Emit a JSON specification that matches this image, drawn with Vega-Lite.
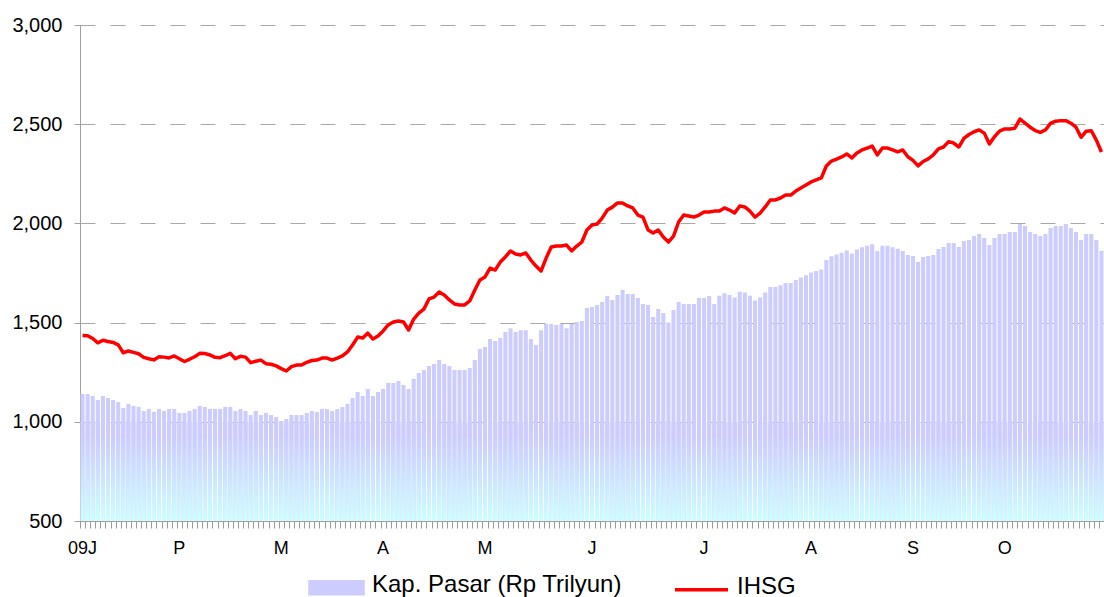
{
  "$schema": "https://vega.github.io/schema/vega-lite/v6.json",
  "width": 1024,
  "height": 496,
  "autosize": "none",
  "padding": {"left": 80, "top": 25, "right": 0, "bottom": 76},
  "background": "white",
  "view": {"stroke": null},
  "config": {"font": "Liberation Sans"},
  "data": {"values": [
{"i":0,"kap":1140,"ihsg":1435},{"i":1,"kap":1140,"ihsg":1434},{"i":2,"kap":1130,"ihsg":1420},{"i":3,"kap":1110,"ihsg":1398},{"i":4,"kap":1130,"ihsg":1411},
{"i":5,"kap":1120,"ihsg":1405},{"i":6,"kap":1110,"ihsg":1400},{"i":7,"kap":1100,"ihsg":1388},{"i":8,"kap":1070,"ihsg":1348},{"i":9,"kap":1090,"ihsg":1357},
{"i":10,"kap":1080,"ihsg":1350},{"i":11,"kap":1075,"ihsg":1343},{"i":12,"kap":1055,"ihsg":1325},{"i":13,"kap":1065,"ihsg":1318},{"i":14,"kap":1050,"ihsg":1312},
{"i":15,"kap":1065,"ihsg":1328},{"i":16,"kap":1055,"ihsg":1326},{"i":17,"kap":1065,"ihsg":1322},{"i":18,"kap":1065,"ihsg":1332},{"i":19,"kap":1045,"ihsg":1318},
{"i":20,"kap":1045,"ihsg":1304},{"i":21,"kap":1055,"ihsg":1315},{"i":22,"kap":1065,"ihsg":1328},{"i":23,"kap":1080,"ihsg":1345},{"i":24,"kap":1075,"ihsg":1344},
{"i":25,"kap":1065,"ihsg":1337},{"i":26,"kap":1065,"ihsg":1325},{"i":27,"kap":1065,"ihsg":1323},{"i":28,"kap":1075,"ihsg":1333},{"i":29,"kap":1075,"ihsg":1345},
{"i":30,"kap":1055,"ihsg":1318},{"i":31,"kap":1065,"ihsg":1330},{"i":32,"kap":1055,"ihsg":1326},{"i":33,"kap":1034,"ihsg":1298},{"i":34,"kap":1055,"ihsg":1305},
{"i":35,"kap":1034,"ihsg":1311},{"i":36,"kap":1045,"ihsg":1293},{"i":37,"kap":1034,"ihsg":1290},{"i":38,"kap":1024,"ihsg":1282},{"i":39,"kap":1004,"ihsg":1268},
{"i":40,"kap":1014,"ihsg":1256},{"i":41,"kap":1034,"ihsg":1278},{"i":42,"kap":1034,"ihsg":1286},{"i":43,"kap":1034,"ihsg":1286},{"i":44,"kap":1044,"ihsg":1300},
{"i":45,"kap":1054,"ihsg":1309},{"i":46,"kap":1049,"ihsg":1311},{"i":47,"kap":1064,"ihsg":1321},{"i":48,"kap":1064,"ihsg":1321},{"i":49,"kap":1054,"ihsg":1311},
{"i":50,"kap":1064,"ihsg":1321},{"i":51,"kap":1074,"ihsg":1332},{"i":52,"kap":1090,"ihsg":1352},{"i":53,"kap":1120,"ihsg":1387},{"i":54,"kap":1150,"ihsg":1427},
{"i":55,"kap":1130,"ihsg":1422},{"i":56,"kap":1165,"ihsg":1447},{"i":57,"kap":1130,"ihsg":1417},{"i":58,"kap":1150,"ihsg":1432},{"i":59,"kap":1165,"ihsg":1458},
{"i":60,"kap":1195,"ihsg":1488},{"i":61,"kap":1195,"ihsg":1503},{"i":62,"kap":1206,"ihsg":1508},{"i":63,"kap":1185,"ihsg":1503},{"i":64,"kap":1165,"ihsg":1463},
{"i":65,"kap":1216,"ihsg":1518},{"i":66,"kap":1246,"ihsg":1548},{"i":67,"kap":1261,"ihsg":1568},{"i":68,"kap":1281,"ihsg":1619},{"i":69,"kap":1291,"ihsg":1629},
{"i":70,"kap":1311,"ihsg":1654},{"i":71,"kap":1291,"ihsg":1639},{"i":72,"kap":1281,"ihsg":1614},{"i":73,"kap":1261,"ihsg":1594},{"i":74,"kap":1261,"ihsg":1589},
{"i":75,"kap":1261,"ihsg":1589},{"i":76,"kap":1271,"ihsg":1609},{"i":77,"kap":1311,"ihsg":1664},{"i":78,"kap":1367,"ihsg":1715},{"i":79,"kap":1377,"ihsg":1730},
{"i":80,"kap":1417,"ihsg":1775},{"i":81,"kap":1407,"ihsg":1765},{"i":82,"kap":1422,"ihsg":1805},{"i":83,"kap":1452,"ihsg":1831},{"i":84,"kap":1472,"ihsg":1861},
{"i":85,"kap":1452,"ihsg":1846},{"i":86,"kap":1462,"ihsg":1841},{"i":87,"kap":1462,"ihsg":1851},{"i":88,"kap":1417,"ihsg":1815},{"i":89,"kap":1387,"ihsg":1785},
{"i":90,"kap":1462,"ihsg":1760},{"i":91,"kap":1493,"ihsg":1825},{"i":92,"kap":1493,"ihsg":1881},{"i":93,"kap":1488,"ihsg":1886},{"i":94,"kap":1493,"ihsg":1886},
{"i":95,"kap":1472,"ihsg":1891},{"i":96,"kap":1493,"ihsg":1861},{"i":97,"kap":1503,"ihsg":1886},{"i":98,"kap":1508,"ihsg":1906},{"i":99,"kap":1574,"ihsg":1967},
{"i":100,"kap":1579,"ihsg":1992},{"i":101,"kap":1589,"ihsg":1997},{"i":102,"kap":1604,"ihsg":2027},{"i":103,"kap":1634,"ihsg":2067},{"i":104,"kap":1614,"ihsg":2082},
{"i":105,"kap":1639,"ihsg":2103},{"i":106,"kap":1664,"ihsg":2103},{"i":107,"kap":1644,"ihsg":2088},{"i":108,"kap":1644,"ihsg":2078},{"i":109,"kap":1624,"ihsg":2042},
{"i":110,"kap":1594,"ihsg":2032},{"i":111,"kap":1589,"ihsg":1967},{"i":112,"kap":1528,"ihsg":1952},{"i":113,"kap":1568,"ihsg":1967},{"i":114,"kap":1548,"ihsg":1931},
{"i":115,"kap":1500,"ihsg":1906},{"i":116,"kap":1563,"ihsg":1936},{"i":117,"kap":1604,"ihsg":2007},{"i":118,"kap":1594,"ihsg":2042},{"i":119,"kap":1594,"ihsg":2037},
{"i":120,"kap":1594,"ihsg":2032},{"i":121,"kap":1624,"ihsg":2042},{"i":122,"kap":1624,"ihsg":2057},{"i":123,"kap":1634,"ihsg":2057},{"i":124,"kap":1594,"ihsg":2062},
{"i":125,"kap":1635,"ihsg":2062},{"i":126,"kap":1648,"ihsg":2078},{"i":127,"kap":1639,"ihsg":2067},{"i":128,"kap":1627,"ihsg":2052},{"i":129,"kap":1656,"ihsg":2088},
{"i":130,"kap":1652,"ihsg":2083},{"i":131,"kap":1635,"ihsg":2062},{"i":132,"kap":1611,"ihsg":2032},{"i":133,"kap":1627,"ihsg":2052},{"i":134,"kap":1652,"ihsg":2083},
{"i":135,"kap":1680,"ihsg":2118},{"i":136,"kap":1680,"ihsg":2118},{"i":137,"kap":1688,"ihsg":2128},{"i":138,"kap":1700,"ihsg":2143},{"i":139,"kap":1700,"ihsg":2143},
{"i":140,"kap":1715,"ihsg":2163},{"i":141,"kap":1727,"ihsg":2178},{"i":142,"kap":1739,"ihsg":2193},{"i":143,"kap":1752,"ihsg":2209},{"i":144,"kap":1760,"ihsg":2219},
{"i":145,"kap":1768,"ihsg":2229},{"i":146,"kap":1815,"ihsg":2289},{"i":147,"kap":1835,"ihsg":2314},{"i":148,"kap":1843,"ihsg":2324},{"i":149,"kap":1852,"ihsg":2335},
{"i":150,"kap":1864,"ihsg":2350},{"i":151,"kap":1848,"ihsg":2330},{"i":152,"kap":1868,"ihsg":2355},{"i":153,"kap":1880,"ihsg":2370},{"i":154,"kap":1887,"ihsg":2380},
{"i":155,"kap":1895,"ihsg":2390},{"i":156,"kap":1860,"ihsg":2345},{"i":157,"kap":1887,"ihsg":2380},{"i":158,"kap":1887,"ihsg":2380},{"i":159,"kap":1880,"ihsg":2370},
{"i":160,"kap":1872,"ihsg":2360},{"i":161,"kap":1861,"ihsg":2370},{"i":162,"kap":1841,"ihsg":2336},{"i":163,"kap":1836,"ihsg":2318},{"i":164,"kap":1805,"ihsg":2290},
{"i":165,"kap":1831,"ihsg":2312},{"i":166,"kap":1836,"ihsg":2325},{"i":167,"kap":1841,"ihsg":2345},{"i":168,"kap":1871,"ihsg":2376},{"i":169,"kap":1881,"ihsg":2385},
{"i":170,"kap":1901,"ihsg":2412},{"i":171,"kap":1901,"ihsg":2405},{"i":172,"kap":1881,"ihsg":2385},{"i":173,"kap":1911,"ihsg":2429},{"i":174,"kap":1916,"ihsg":2448},
{"i":175,"kap":1936,"ihsg":2462},{"i":176,"kap":1946,"ihsg":2471},{"i":177,"kap":1926,"ihsg":2455},{"i":178,"kap":1891,"ihsg":2400},{"i":179,"kap":1926,"ihsg":2437},
{"i":180,"kap":1946,"ihsg":2465},{"i":181,"kap":1946,"ihsg":2476},{"i":182,"kap":1957,"ihsg":2476},{"i":183,"kap":1957,"ihsg":2480},{"i":184,"kap":1997,"ihsg":2526},
{"i":185,"kap":1987,"ihsg":2505},{"i":186,"kap":1957,"ihsg":2485},{"i":187,"kap":1946,"ihsg":2468},{"i":188,"kap":1936,"ihsg":2459},{"i":189,"kap":1946,"ihsg":2471},
{"i":190,"kap":1977,"ihsg":2504},{"i":191,"kap":1987,"ihsg":2515},{"i":192,"kap":1987,"ihsg":2518},{"i":193,"kap":1997,"ihsg":2518},{"i":194,"kap":1977,"ihsg":2505},
{"i":195,"kap":1957,"ihsg":2485},{"i":196,"kap":1916,"ihsg":2434},{"i":197,"kap":1946,"ihsg":2465},{"i":198,"kap":1946,"ihsg":2467},{"i":199,"kap":1916,"ihsg":2420},
{"i":200,"kap":1861,"ihsg":2360}
  ]},
  "encoding": {
    "x": {
      "field": "i",
      "type": "ordinal",
      "title": null,
      "scale": {"paddingInner": 0.2, "paddingOuter": 0.1},
      "axis": {
        "labelAngle": 0,
        "labelOverlap": false,
        "bandPosition": 0,
        "labelExpr": "datum.value==0?'09J':datum.value==19?'P':datum.value==39?'M':datum.value==59?'A':datum.value==79?'M':datum.value==100?'J':datum.value==122?'J':datum.value==143?'A':datum.value==163?'S':datum.value==181?'O':''",
        "labelFontSize": 18,
        "labelFont": "Liberation Sans",
        "labelColor": "#000000",
        "labelPadding": 11,
        "tickSize": 7,
        "tickColor": "#999999",
        "domainColor": "#a0a0a0",
        "grid": false
      }
    }
  },
  "layer": [
    {
      "mark": {"type": "bar"},
      "encoding": {
        "y": {
          "field": "kap",
          "type": "quantitative",
          "title": null,
          "scale": {"domain": [500, 3000], "zero": false, "nice": false},
          "axis": {
            "values": [500, 1000, 1500, 2000, 2500, 3000],
            "labelExpr": "format(datum.value, ',.0f')",
            "labelFontSize": 20,
            "labelFont": "Liberation Sans",
            "labelColor": "#000000",
            "labelPadding": 12,
            "tickSize": 6,
            "tickColor": "#a0a0a0",
            "domainColor": "#a0a0a0",
            "grid": true,
            "gridDash": [15, 15],
            "gridColor": "#a8a8a8",
            "gridWidth": 1
          }
        },
        "y2": {"datum": 500},
        "color": {
          "datum": "Kap. Pasar (Rp Trilyun)",
          "scale": {"domain": ["Kap. Pasar (Rp Trilyun)", "IHSG"], "range": ["#ccccff", "#ff0000"]},
          "legend": {
            "orient": "none",
            "legendX": 228,
            "legendY": 534,
            "direction": "horizontal",
            "title": null,
            "padding": 0,
            "labelFontSize": 24,
            "labelFont": "Liberation Sans",
            "labelColor": "#000000",
            "labelLimit": 270,
            "labelOffset": 7,
            "columnPadding": 46,
            "symbolSize": 2809,
            "encode": {
              "labels": {"update": {"dy": {"value": -3}}},
              "symbols": {
                "update": {
                  "shape": {"signal": "datum.label === 'IHSG' ? 'stroke' : 'M-1,-0.226H1V0.226H-1Z'"},
                  "fill": {"signal": "datum.label === 'IHSG' ? 'transparent' : {gradient: 'linear', x1: 0, y1: 0, x2: 0, y2: 1, stops: [{offset: 0, color: '#ccccff'}, {offset: 1, color: '#ccffff'}]}"},
                  "stroke": {"signal": "datum.label === 'IHSG' ? '#ff0000' : 'transparent'"},
                  "strokeWidth": {"value": 3.5},
                  "opacity": {"value": 1}
                }
              }
            }
          }
        }
      }
    },
    {
      "mark": {
        "type": "bar",
        "fill": {
          "gradient": "linear",
          "x1": 0, "y1": 0, "x2": 0, "y2": 1,
          "stops": [
            {"offset": 0, "color": "#ccccff"},
            {"offset": 0.15, "color": "#ccccff"},
            {"offset": 1, "color": "#ccffff"}
          ]
        }
      },
      "encoding": {
        "y": {"datum": 1000, "type": "quantitative"},
        "y2": {"datum": 500}
      }
    },
    {
      "mark": {"type": "line", "strokeWidth": 3.5, "strokeJoin": "round"},
      "encoding": {
        "y": {"field": "ihsg", "type": "quantitative"},
        "color": {"datum": "IHSG"}
      }
    }
  ]
}
